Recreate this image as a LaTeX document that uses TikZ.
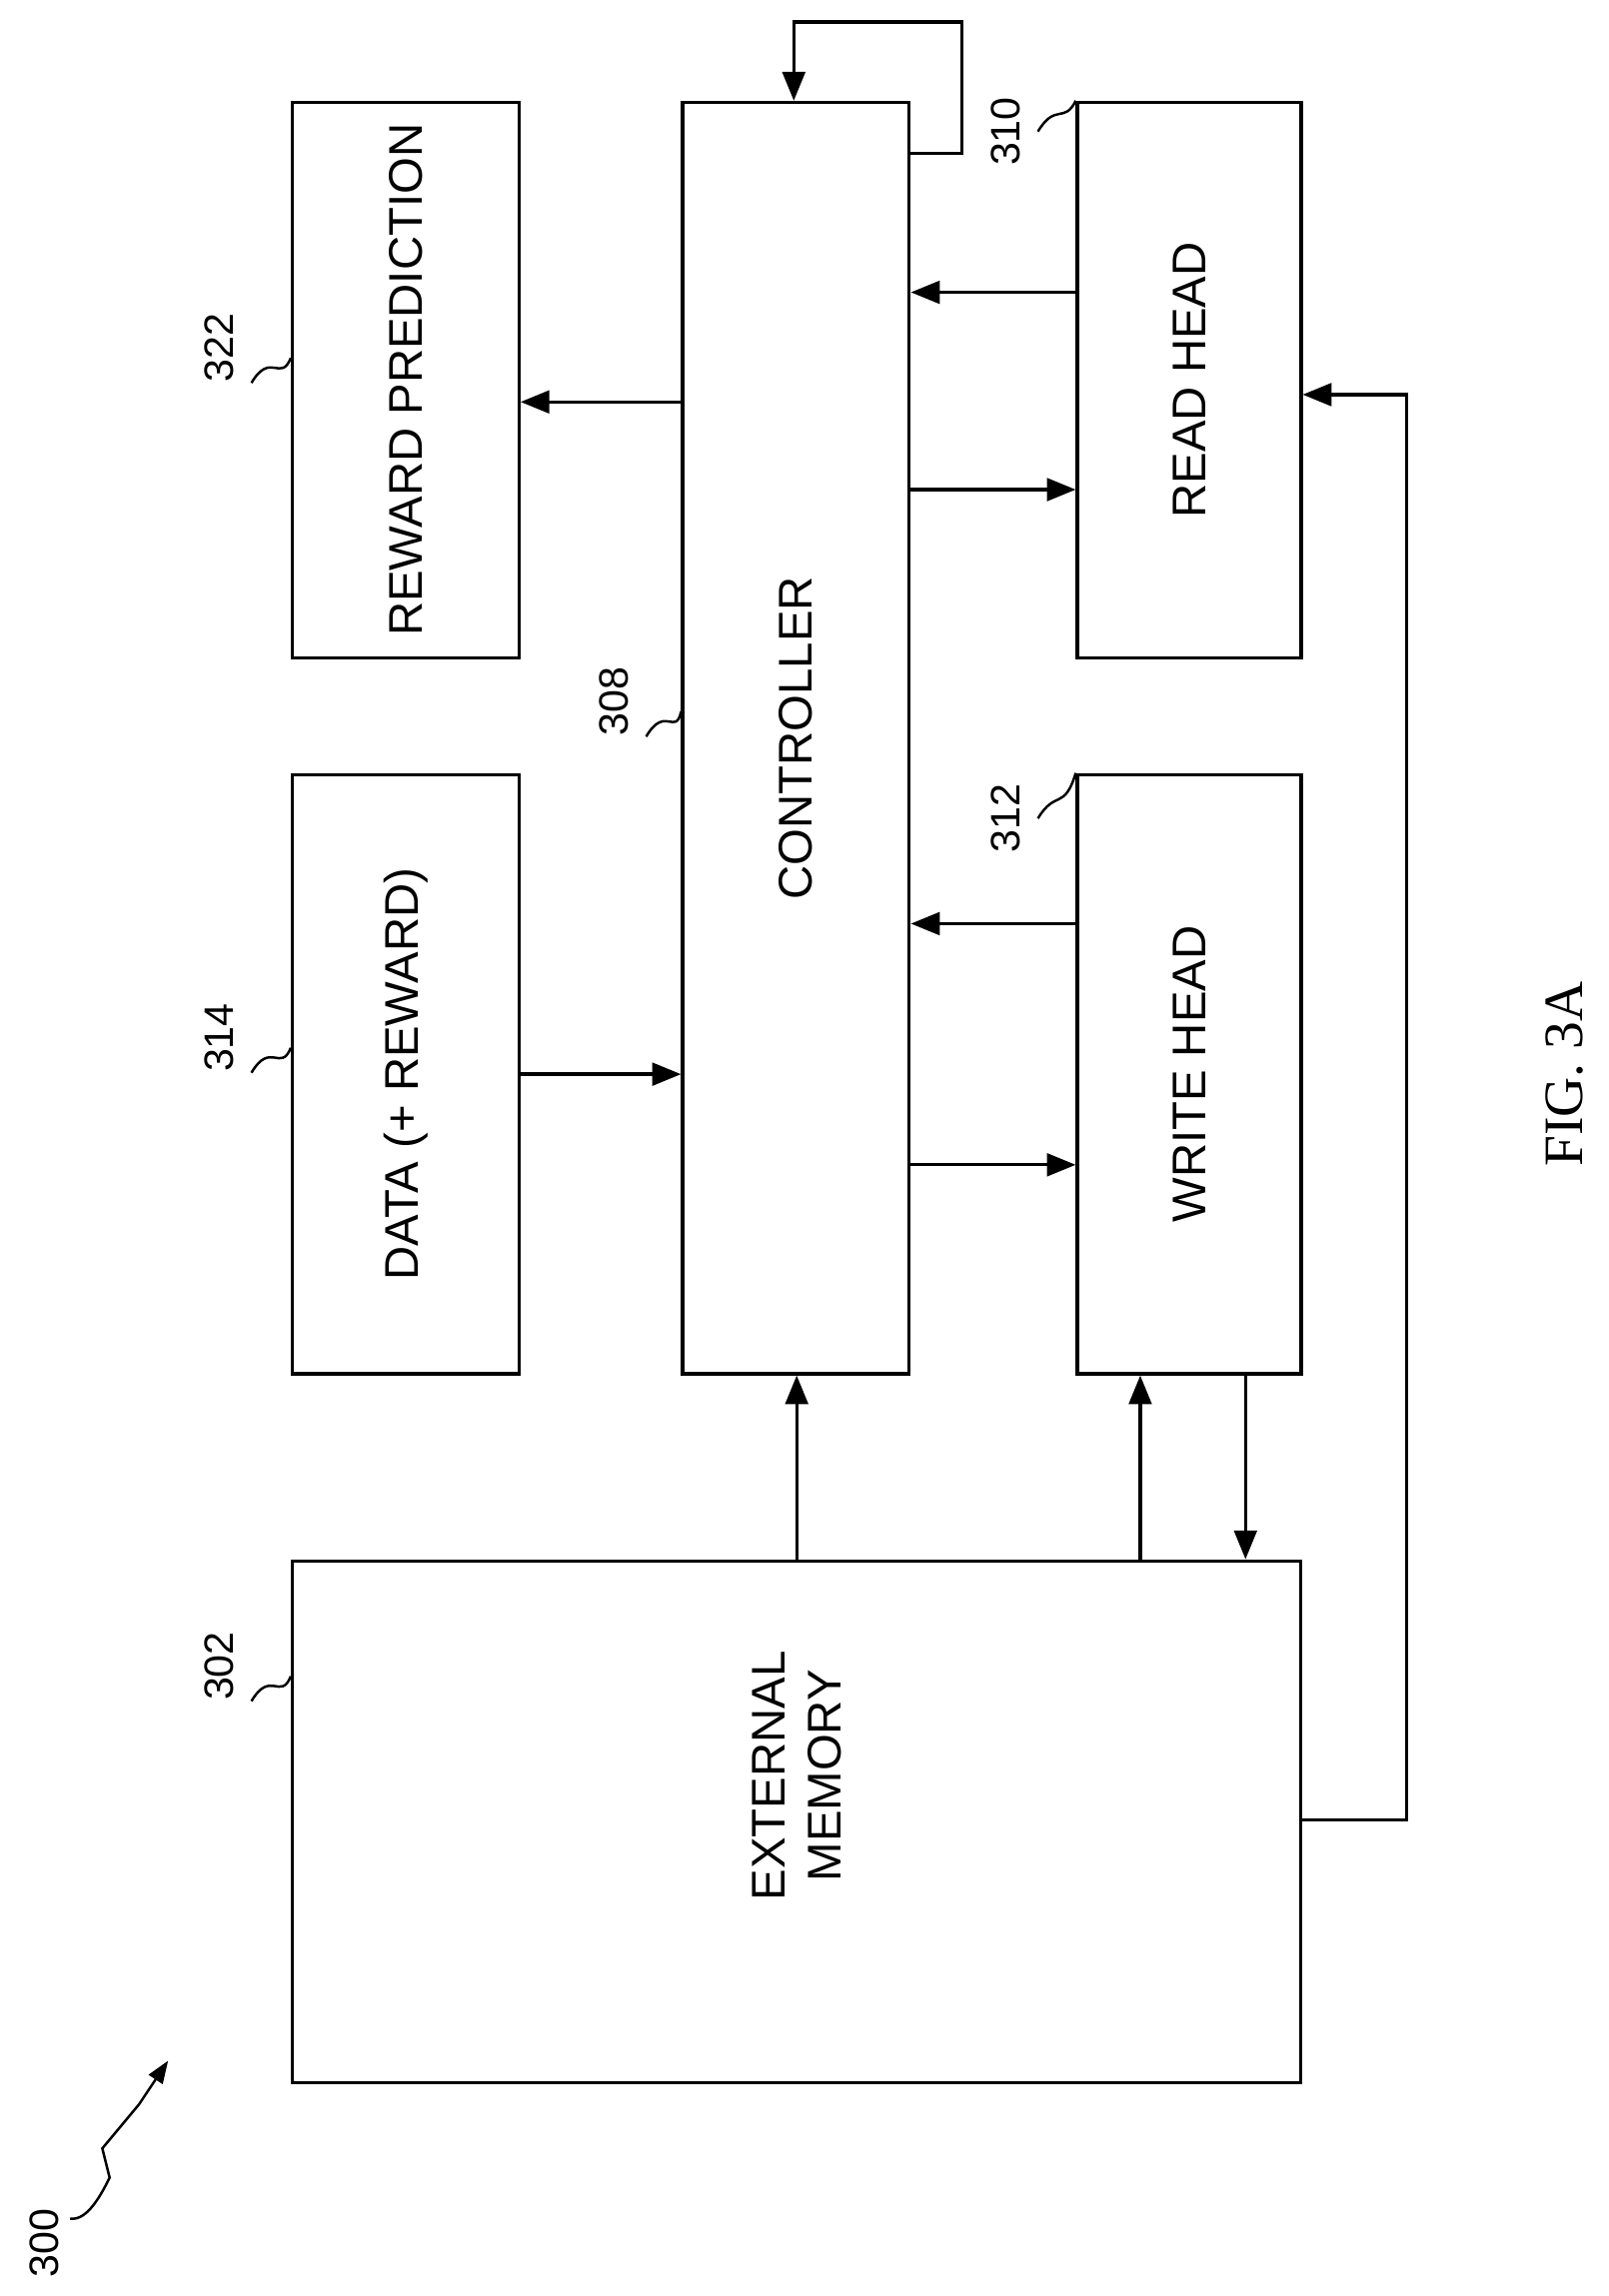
\documentclass[tikz,border=0pt]{standalone}
\usepackage{fontspec}
\setmainfont{Liberation Serif}
\setsansfont{Liberation Sans}
\usetikzlibrary{arrows.meta}
\begin{document}
\begin{tikzpicture}[x=0.05cm,y=-0.05cm,
  box/.style={draw,line width=3.2pt,inner sep=0pt},
  lbl/.style={rotate=90,font=\sffamily\fontsize{46}{54}\selectfont},
  num/.style={rotate=90,font=\sffamily\fontsize{40}{48}\selectfont},
  arr/.style={line width=3.2pt,-{Triangle[length=28pt,width=22pt]}},
  ln/.style={line width=3.2pt},
  lead/.style={line width=2.4pt}]
\useasboundingbox (0,0) rectangle (1100,1571);
\node[box,minimum width=7.75cm,minimum height=19cm] (rp) at (277.5,260) {};
\node[lbl] at (rp) {REWARD PREDICTION};
\node[box,minimum width=7.75cm,minimum height=20.5cm] (data) at (277.5,735) {};
\node[lbl] at (data) {DATA (+ REWARD)};
\node[box,minimum width=7.75cm,minimum height=43.5cm] (ctrl) at (544.5,505) {};
\node[lbl] at (ctrl) {CONTROLLER};
\node[box,minimum width=7.65cm,minimum height=19cm] (rh) at (813.5,260) {};
\node[lbl] at (rh) {READ HEAD};
\node[box,minimum width=7.65cm,minimum height=20.5cm] (wh) at (813.5,735) {};
\node[lbl] at (wh) {WRITE HEAD};
\node[box,minimum width=34.5cm,minimum height=17.85cm] (mem) at (545,1246.5) {};
\node[lbl,align=center] at (545,1215) {EXTERNAL\\MEMORY};
% arrows
\draw[arr] (ctrl.west |- 0,275) -- (rp.east |- 0,275);
\draw[arr] (data.east |- 0,735) -- (ctrl.west |- 0,735);
\draw[arr] (rh.west |- 0,200) -- (ctrl.east |- 0,200);
\draw[arr] (ctrl.east |- 0,335) -- (rh.west |- 0,335);
\draw[arr] (wh.west |- 0,632) -- (ctrl.east |- 0,632);
\draw[arr] (ctrl.east |- 0,797) -- (wh.west |- 0,797);
\draw[arr] (mem.north -| 545,0) -- (ctrl.south -| 545,0);
\draw[arr] (mem.north -| 780,0) -- (wh.south -| 780,0);
\draw[arr] (wh.south -| 852,0) -- (mem.north -| 852,0);
\draw[arr] (mem.east |- 0,1245) -- (962,1245) -- (962,270) -- (rh.east |- 0,270);
\draw[arr] (ctrl.east |- 0,105) -- (658,105) -- (658,15) -- (543,15) -- (ctrl.north -| 543,0);
% reference numerals
\node[num] (n322) at (150,238) {322};
\draw[lead] (172,262) .. controls (185,240) and (192,262) .. (rp.north west |- 0,245);
\node[num] (n314) at (150,710) {314};
\draw[lead] (172,734) .. controls (185,712) and (192,734) .. (data.north west |- 0,717);
\node[num] (n308) at (420,480) {308};
\draw[lead] (442,504) .. controls (455,482) and (462,504) .. (ctrl.west |- 0,487);
\node[num] (n312) at (688,560) {312};
\draw[lead] (710,560) .. controls (722,540) and (728,555) .. (wh.north west);
\node[num] (n310) at (688,90) {310};
\draw[lead] (710,90) .. controls (722,70) and (728,85) .. (rh.north west);
\node[num] (n302) at (150,1140) {302};
\draw[lead] (172,1164) .. controls (185,1142) and (192,1164) .. (mem.north west |- 0,1147);
\node[num] (n300) at (30,1535) {300};
\coordinate (z0) at (48,1518);
\coordinate (z1) at (115,1410);
\draw[lead,-{Triangle[length=22pt,width=16pt]}] (z0) .. controls (60,1520) and (70,1500) .. (75,1490) -- (70,1470) -- (95,1440) -- (z1);
\node[rotate=90,font=\fontsize{54}{60}\selectfont] (fig) at (1070,735) {FIG. 3A};
\end{tikzpicture}
\end{document}
